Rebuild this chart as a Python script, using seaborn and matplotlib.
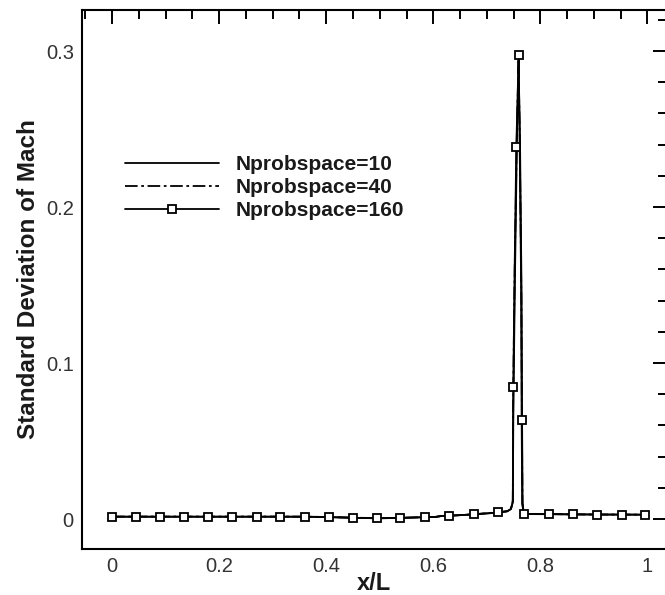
import numpy as np
import pandas as pd
import matplotlib
matplotlib.use("Agg")
import matplotlib.pyplot as plt
from matplotlib.lines import Line2D
import seaborn as sns

# ---- data ----
x_160 = [0.0, 0.0455, 0.089, 0.1345, 0.179, 0.224, 0.270, 0.313, 0.360, 0.405,
         0.450, 0.495, 0.537, 0.584, 0.605, 0.615, 0.629, 0.676, 0.720, 0.738,
         0.745, 0.7485, 0.7490, 0.7494, 0.7515, 0.755, 0.7575, 0.7594, 0.7610,
         0.7640, 0.7650, 0.7660, 0.769, 0.816, 0.861, 0.906, 0.953, 0.996]
y_160 = [0.0015, 0.0015, 0.0015, 0.0015, 0.0015, 0.0015, 0.0015, 0.0015, 0.0015, 0.0013,
         0.0008, 0.0005, 0.0007, 0.0012, 0.0014, 0.0020, 0.0021, 0.0030, 0.0042, 0.0050,
         0.0065, 0.0110, 0.0620, 0.0844, 0.1500, 0.2387, 0.2700, 0.2974, 0.2500,
         0.1500, 0.0635, 0.0100, 0.0032, 0.0032, 0.0030, 0.0029, 0.0029, 0.0028]
marker_idx_160 = [0, 1, 2, 3, 4, 5, 6, 7, 8, 9, 10, 11, 12, 13, 16, 17, 18,
                  23, 25, 27, 30, 32, 33, 34, 35, 36, 37]

x_40 = [0.0, 0.0455, 0.089, 0.1345, 0.179, 0.224, 0.270, 0.313, 0.360, 0.405,
        0.450, 0.495, 0.537, 0.584, 0.605, 0.615, 0.629, 0.676, 0.720, 0.738,
        0.745, 0.7485, 0.7492, 0.7520, 0.7560, 0.7590, 0.7615, 0.7645, 0.7655,
        0.7665, 0.769, 0.816, 0.861, 0.906, 0.953, 0.996]
y_40 = [0.0016, 0.0016, 0.0016, 0.0016, 0.0016, 0.0016, 0.0016, 0.0016, 0.0015, 0.0013,
        0.0009, 0.0006, 0.0008, 0.0012, 0.0014, 0.0019, 0.0021, 0.0031, 0.0043, 0.0051,
        0.0066, 0.0120, 0.0800, 0.1600, 0.2450, 0.2950, 0.2450, 0.1400, 0.0600,
        0.0100, 0.0033, 0.0032, 0.0030, 0.0029, 0.0029, 0.0028]

x_10 = [0.0, 0.0455, 0.089, 0.1345, 0.179, 0.224, 0.270, 0.313, 0.360, 0.405,
        0.450, 0.495, 0.537, 0.584, 0.605, 0.615, 0.629, 0.676, 0.720, 0.738,
        0.745, 0.7485, 0.7495, 0.7525, 0.7565, 0.7592, 0.7620, 0.7648, 0.7658,
        0.7668, 0.769, 0.816, 0.861, 0.906, 0.953, 0.996]
y_10 = [0.0015, 0.0015, 0.0015, 0.0015, 0.0015, 0.0015, 0.0015, 0.0015, 0.0015, 0.0012,
        0.0008, 0.0005, 0.0007, 0.0012, 0.0014, 0.0020, 0.0021, 0.0030, 0.0041, 0.0049,
        0.0064, 0.0110, 0.0700, 0.1550, 0.2500, 0.2920, 0.2400, 0.1450, 0.0620,
        0.0100, 0.0032, 0.0031, 0.0030, 0.0029, 0.0028, 0.0028]

labels = ["Nprobspace=10", "Nprobspace=40", "Nprobspace=160"]
x_ticks = [0, 0.2, 0.4, 0.6, 0.8, 1.0]
x_tick_labels = ["0", "0.2", "0.4", "0.6", "0.8", "1"]
y_ticks = [0, 0.1, 0.2, 0.3]
y_tick_labels = ["0", "0.1", "0.2", "0.3"]

sns.set_style("white")
plt.rcParams['font.family'] = ['Liberation Sans', 'DejaVu Sans']

W, H = 665, 595
fig = plt.figure(figsize=(W / 100, H / 100), dpi=100)
ax = fig.add_axes([81.5 / W, 46 / H, (666.5 - 81.5) / W, (549 - 10) / H])

lw = 1.3
dash_dot = (7, 2, 1.5, 2)

df10 = pd.DataFrame({"x": x_10, "y": y_10})
df40 = pd.DataFrame({"x": x_40, "y": y_40})
df160 = pd.DataFrame({"x": x_160, "y": y_160})

sns.lineplot(data=df10, x="x", y="y", ax=ax, color="black", lw=lw,
             estimator=None, sort=False)
sns.lineplot(data=df40, x="x", y="y", ax=ax, color="black", lw=lw,
             estimator=None, sort=False)
ax.lines[-1].set_dashes(dash_dot)
sns.lineplot(data=df160, x="x", y="y", ax=ax, color="black", lw=lw,
             estimator=None, sort=False, marker="s", markersize=5.2,
             markerfacecolor="white", markeredgecolor="black",
             markeredgewidth=1.3, markevery=marker_idx_160)

ax.set_xlim(-0.057, 1.0355)
ax.set_ylim(-0.0192, 0.3263)

ax.set_xticks(x_ticks)
ax.set_xticklabels(x_tick_labels)
ax.set_yticks(y_ticks)
ax.set_yticklabels(y_tick_labels)
ax.xaxis.set_minor_locator(matplotlib.ticker.MultipleLocator(0.05))
ax.yaxis.set_minor_locator(matplotlib.ticker.MultipleLocator(0.02))

ax.tick_params(which="both", direction="in", top=True, right=True,
               color="black", width=1.4, labelsize=14.5, labelcolor="#333333")
ax.tick_params(which="major", length=10)
ax.tick_params(which="minor", length=6.5)
ax.tick_params(axis="y", pad=5.5)
ax.tick_params(axis="x", pad=6)

for s in ax.spines.values():
    s.set_linewidth(1.5)
    s.set_color("black")

ax.set_xlabel("x/L", fontsize=17, fontweight="bold", color="#1a1a1a", labelpad=-3)
ax.set_ylabel("Standard Deviation of Mach", fontsize=17.5, fontweight="bold",
              color="#1a1a1a", labelpad=4)

handles = [
    Line2D([], [], color="black", lw=lw),
    Line2D([], [], color="black", lw=lw, dashes=dash_dot),
    Line2D([], [], color="black", lw=lw, marker="s", markersize=5.2,
           markerfacecolor="white", markeredgecolor="black", markeredgewidth=1.3),
]
leg = ax.legend(handles, labels, loc="upper left",
                bbox_to_anchor=(125 / W, 1 - 155 / H), bbox_transform=fig.transFigure,
                frameon=False, borderpad=0, borderaxespad=0, handlelength=4.5,
                handletextpad=0.8, labelspacing=0.2, numpoints=1,
                prop={"weight": "bold", "size": 15})
for t in leg.get_texts():
    t.set_color("#1a1a1a")

fig.savefig("out.png", dpi=100)
